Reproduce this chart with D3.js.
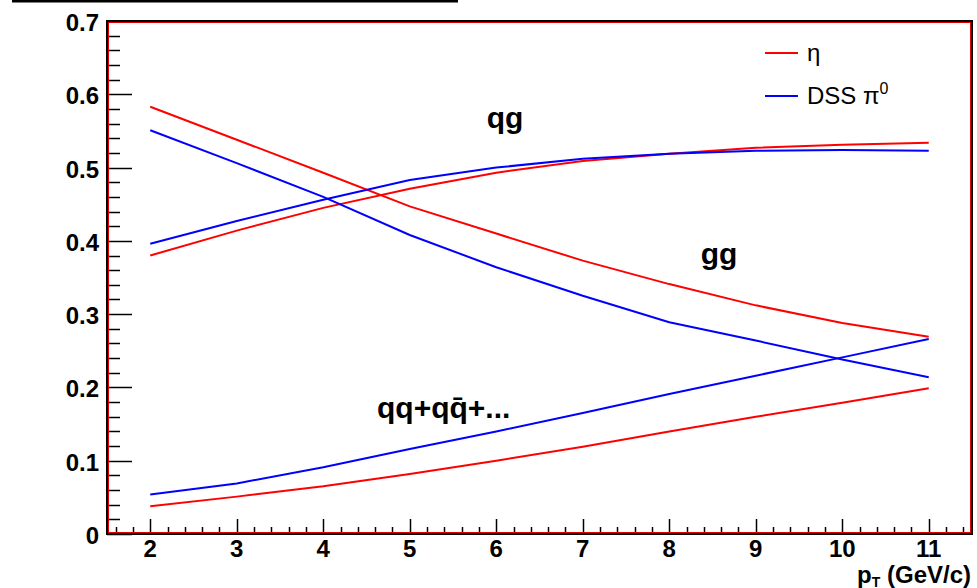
<!DOCTYPE html>
<html>
<head>
<meta charset="utf-8">
<script src="https://cdn.jsdelivr.net/npm/d3@7"></script>
<style>
  body { margin: 0; background: #fff; }
  svg { font-family: "Liberation Sans", Arial, Helvetica, sans-serif; }
</style>
</head>
<body>
<svg width="977" height="588"></svg>
<script>
// pT bins
var pT = [2, 3, 4, 5, 6, 7, 8, 9, 10, 11];

// eta (red)
var etaQg = [0.380, 0.414, 0.445, 0.471, 0.493, 0.509, 0.519, 0.527, 0.531, 0.534];
var etaGg = [0.583, 0.538, 0.493, 0.447, 0.410, 0.373, 0.341, 0.312, 0.288, 0.269];
var etaQq = [0.038, 0.051, 0.065, 0.082, 0.100, 0.119, 0.140, 0.160, 0.179, 0.199];

// DSS pi0 (blue)
var piQg = [0.396, 0.427, 0.456, 0.483, 0.500, 0.512, 0.519, 0.523, 0.524, 0.523];
var piGg = [0.551, 0.506, 0.460, 0.408, 0.364, 0.325, 0.289, 0.264, 0.238, 0.214];
var piQq = [0.054, 0.069, 0.091, 0.116, 0.140, 0.165, 0.191, 0.216, 0.241, 0.266];

var xTickLabels = [2, 3, 4, 5, 6, 7, 8, 9, 10, 11];
var yTickLabels = [0, 0.1, 0.2, 0.3, 0.4, 0.5, 0.6, 0.7];

var svg = d3.select("svg");
// frame edges (note: "top" is taken by window.top)
var fLeft = 107, fRight = 972, fTop = 21, fBottom = 534;

var x = d3.scaleLinear().domain([1.5, 11.5]).range([fLeft, fRight]);
var y = d3.scaleLinear().domain([0, 0.7]).range([fBottom, fTop]);

// leftover bottom edge of the title box
svg.append("line")
    .attr("x1", 12).attr("x2", 458)
    .attr("y1", 1).attr("y2", 1)
    .attr("stroke", "#000")
    .attr("stroke-width", 3);

// minor + major ticks, drawn inward
var yMinor = d3.range(0, 0.7001, 0.02);
svg.append("g").selectAll("line")
  .data(yMinor)
  .enter().append("line")
    .attr("x1", fLeft)
    .attr("x2", function(d) { return fLeft + (Math.abs(d * 10 - Math.round(d * 10)) < 1e-6 ? 25 : 13); })
    .attr("y1", function(d) { return Math.round(y(d)) + 0.5; })
    .attr("y2", function(d) { return Math.round(y(d)) + 0.5; })
    .attr("stroke", "#000")
    .attr("stroke-width", 1.5);

var xMinor = d3.range(1.6, 11.41, 0.2);
svg.append("g").selectAll("line")
  .data(xMinor)
  .enter().append("line")
    .attr("x1", function(d) { return Math.round(x(d)) + 0.5; })
    .attr("x2", function(d) { return Math.round(x(d)) + 0.5; })
    .attr("y1", fBottom)
    .attr("y2", function(d) { return fBottom - (Math.abs(d - Math.round(d)) < 1e-6 ? 15 : 7); })
    .attr("stroke", "#000")
    .attr("stroke-width", 1.5);

// tick labels
svg.append("g").selectAll("text")
  .data(yTickLabels)
  .enter().append("text")
    .attr("x", 99)
    .attr("y", function(d) { return y(d) + 10; })
    .attr("text-anchor", "end")
    .attr("font-size", 24)
    .attr("font-weight", "bold")
    .text(function(d) { return d === 0 ? "0" : d3.format(".1f")(d); });

svg.append("g").selectAll("text")
  .data(xTickLabels)
  .enter().append("text")
    .attr("x", function(d) { return x(d); })
    .attr("y", 557)
    .attr("text-anchor", "middle")
    .attr("font-size", 24)
    .attr("font-weight", "bold")
    .text(function(d) { return d; });

// axis title
var xt = svg.append("text")
    .attr("x", 971)
    .attr("y", 583)
    .attr("text-anchor", "end")
    .attr("font-size", 24)
    .attr("font-weight", "bold");
xt.append("tspan").text("p");
xt.append("tspan").attr("font-size", 14).attr("dy", 4).text("T");
xt.append("tspan").attr("dy", -4).text(" (GeV/c)");

// curves
var line = d3.line()
    .x(function(d) { return x(d[0]); })
    .y(function(d) { return y(d[1]); });

var series = [
  { vals: etaQg, color: "#ff0000" },
  { vals: etaGg, color: "#ff0000" },
  { vals: etaQq, color: "#ff0000" },
  { vals: piQg, color: "#0000ff" },
  { vals: piGg, color: "#0000ff" },
  { vals: piQq, color: "#0000ff" }
];

svg.append("g").selectAll("path")
  .data(series)
  .enter().append("path")
    .attr("d", function(s) { return line(d3.zip(pT, s.vals)); })
    .attr("fill", "none")
    .attr("stroke", function(s) { return s.color; })
    .attr("stroke-width", 2);

// frame: black outside, thin red inside
svg.append("rect")
    .attr("x", fLeft).attr("y", fTop)
    .attr("width", fRight - fLeft).attr("height", fBottom - fTop)
    .attr("fill", "none")
    .attr("stroke", "#000")
    .attr("stroke-width", 2);
svg.append("rect")
    .attr("x", fLeft + 1.5).attr("y", fTop + 1.5)
    .attr("width", fRight - fLeft - 3).attr("height", fBottom - fTop - 3)
    .attr("fill", "none")
    .attr("stroke", "#e00000")
    .attr("stroke-width", 1);

// process labels
svg.append("text")
    .attr("x", 505).attr("y", 128)
    .attr("text-anchor", "middle")
    .attr("font-size", 30)
    .attr("font-weight", "bold")
    .text("qg");
svg.append("text")
    .attr("x", 719).attr("y", 264)
    .attr("text-anchor", "middle")
    .attr("font-size", 30)
    .attr("font-weight", "bold")
    .text("gg");
svg.append("text")
    .attr("x", 377).attr("y", 418)
    .attr("font-size", 30)
    .attr("font-weight", "bold")
    .text("qq+qq\u0304+...");

// legend
var legendData = [
  { name: "η", color: "#ff0000" },
  { name: "DSS π", color: "#0000ff", sup: "0" }
];
var lg = svg.append("g").selectAll("g")
  .data(legendData)
  .enter().append("g")
    .attr("transform", function(d, i) { return "translate(765," + (53 + i * 43) + ")"; });
lg.append("line")
    .attr("x1", 0).attr("x2", 33)
    .attr("stroke", function(d) { return d.color; })
    .attr("stroke-width", 2);
var lt = lg.append("text")
    .attr("x", 42)
    .attr("y", 8)
    .attr("font-size", 24);
lt.append("tspan").text(function(d) { return d.name; });
lt.filter(function(d) { return d.sup; })
  .append("tspan")
    .attr("dy", -10)
    .attr("font-size", 16)
    .text(function(d) { return d.sup; });
</script>
</body>
</html>
